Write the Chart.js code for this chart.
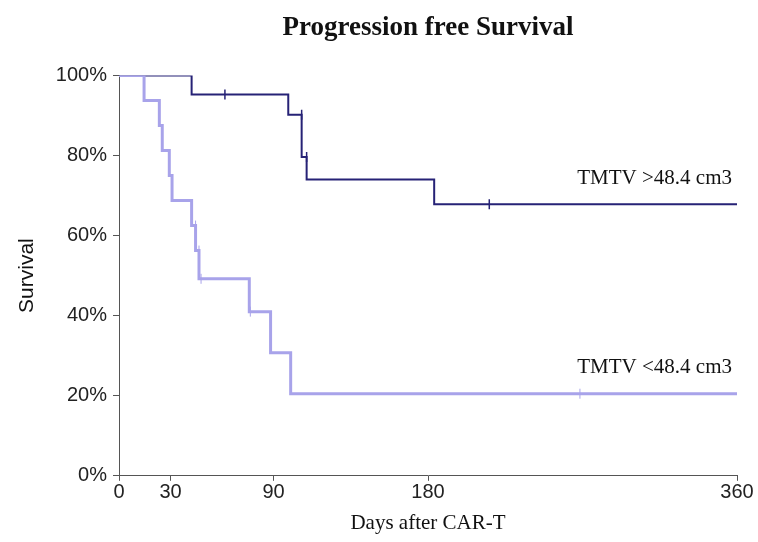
<!DOCTYPE html>
<html>
<head>
<meta charset="utf-8">
<script src="https://cdn.jsdelivr.net/npm/chart.js@4/dist/chart.umd.min.js"></script>
<style>
  html, body { margin: 0; padding: 0; background: #fff; }
  canvas { display: block; }
</style>
</head>
<body>
<canvas id="km" width="758" height="542"></canvas>
<script>
// Kaplan-Meier steps (days, % survival)
const highDays = [0, 42.3, 98.6, 106.4, 109.3, 183.6, 360];
const highSurv = [100, 95.2, 90.2, 79.6, 74.0, 67.8, 67.8];
const highCensorDays = [61.7, 106.4, 109.3, 215.7];
const highCensorSurv = [95.2, 90.2, 79.6, 67.8];

const lowDays = [0, 14.6, 23.5, 25.2, 29.3, 30.9, 42.3, 44.6, 46.6, 75.9, 88.3, 100, 360];
const lowSurv = [100, 93.75, 87.5, 81.25, 75, 68.75, 62.5, 56.25, 49.2, 41.0, 30.75, 20.5, 20.5];
const lowCensorDays = [44.6, 46.6, 47.8, 76.5, 268.5];
const lowCensorSurv = [62.5, 56.25, 49.2, 41.0, 20.5];

const groupLabels = ["TMTV >48.4 cm3", "TMTV <48.4 cm3"];
const xTicks = [0, 30, 90, 180, 360];
const yTicks = [0, 20, 40, 60, 80, 100];

const darkBlue = 'rgb(38, 34, 118)';
const lilac = 'rgb(168, 163, 234)';

const toPoints = function(xs, ys) {
  let result = [];
  for (let i = 0; i < xs.length; i++) {
    result.push({ x: xs[i], y: ys[i] });
  }
  return result;
};

// text next to the end of each curve
const curveLabels = {
  id: 'curveLabels',
  afterDatasetsDraw(chart) {
    const ctx = chart.ctx;
    const xs = chart.scales.x;
    const ys = chart.scales.y;
    const ends = [highSurv[highSurv.length - 1], lowSurv[lowSurv.length - 1]];
    ctx.save();
    ctx.font = '21px "Liberation Serif"';
    ctx.fillStyle = '#111';
    ctx.textAlign = 'right';
    ctx.textBaseline = 'middle';
    for (let i = 0; i < groupLabels.length; i++) {
      ctx.fillText(groupLabels[i], xs.getPixelForValue(360) - 5, ys.getPixelForValue(ends[i]) - 26);
    }
    ctx.restore();
  }
};

const censorSet = function(xs, ys, color, width) {
  return {
    data: toPoints(xs, ys),
    showLine: false,
    pointStyle: 'line',
    rotation: 90,
    pointRadius: 5,
    pointBorderWidth: width,
    borderColor: color,
    backgroundColor: color,
    order: 0
  };
};

const chart = new Chart(document.getElementById('km').getContext('2d'), {
  type: 'scatter',
  data: {
    datasets: [
      {
        data: toPoints(lowDays, lowSurv),
        showLine: true,
        stepped: 'before',
        borderColor: lilac,
        borderWidth: 3,
        pointRadius: 0,
        order: 1
      },
      {
        data: toPoints(highDays, highSurv),
        showLine: true,
        stepped: 'before',
        borderColor: darkBlue,
        borderWidth: 2,
        pointRadius: 0,
        order: 2
      },
      censorSet(lowCensorDays, lowCensorSurv, lilac, 1),
      censorSet(highCensorDays, highCensorSurv, darkBlue, 1.5)
    ]
  },
  options: {
    responsive: false,
    animation: false,
    layout: { padding: { left: 0, right: 21, top: 0, bottom: 6 } },
    plugins: {
      legend: { display: false },
      tooltip: { enabled: false },
      title: {
        display: true,
        fullSize: false,
        text: 'Progression free Survival',
        color: '#111',
        font: { family: '"Liberation Serif"', size: 27, weight: 'bold' },
        padding: { top: 12, bottom: 31 }
      }
    },
    scales: {
      x: {
        type: 'linear',
        min: 0,
        max: 360,
        afterBuildTicks: (axis) => { axis.ticks = xTicks.map(v => ({ value: v })); },
        ticks: {
          color: '#222',
          font: { family: '"Liberation Sans"', size: 20 },
          padding: 0,
          maxRotation: 0,
          autoSkip: false
        },
        grid: { drawOnChartArea: false, tickLength: 5, color: '#555' },
        border: { color: '#555', width: 1 },
        title: {
          display: true,
          text: 'Days after CAR-T',
          color: '#111',
          font: { family: '"Liberation Serif"', size: 21 },
          padding: { top: 6, bottom: 0 }
        }
      },
      y: {
        min: 0,
        max: 100,
        afterBuildTicks: (axis) => { axis.ticks = yTicks.map(v => ({ value: v })); },
        afterFit: (axis) => { axis.width = 119; },
        ticks: {
          color: '#222',
          font: { family: '"Liberation Sans"', size: 20 },
          padding: 6,
          callback: (v) => v + '%'
        },
        grid: { drawOnChartArea: false, tickLength: 6, color: '#555' },
        border: { color: '#555', width: 1 },
        title: {
          display: true,
          text: 'Survival',
          color: '#111',
          font: { family: '"Liberation Sans"', size: 21 },
          padding: { top: 15, bottom: 15 }
        }
      }
    }
  },
  plugins: [curveLabels]
});
</script>
</body>
</html>
